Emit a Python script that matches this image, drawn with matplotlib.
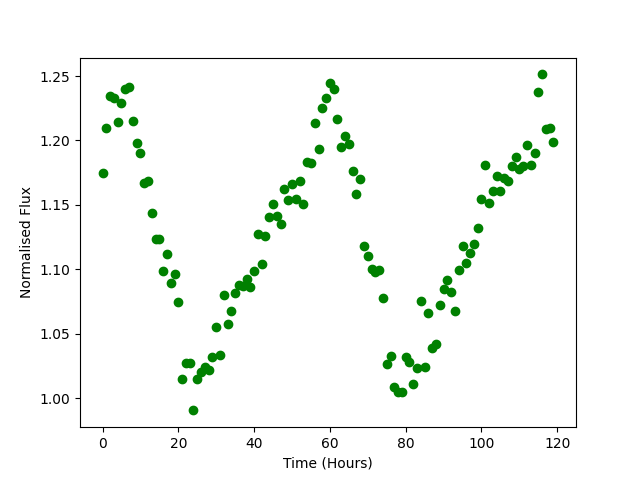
import matplotlib
matplotlib.use("Agg")
import matplotlib.pyplot as plt
import numpy as np

hours = list(range(120))
flux = [
    1.1745, 1.210, 1.2345, 1.233, 1.214, 1.2288, 1.2399, 1.2415, 1.215, 1.1977,
    1.190, 1.1667, 1.1685, 1.1436, 1.1234, 1.1234, 1.0986, 1.1116, 1.089, 1.096,
    1.0743, 1.0148, 1.0269, 1.0269, 0.9904, 1.0148, 1.020, 1.0243, 1.0217, 1.0316,
    1.0549, 1.0334, 1.080, 1.0575, 1.0673, 1.0813, 1.0877, 1.0871, 1.0928, 1.0864,
    1.0988, 1.1273, 1.104, 1.1258, 1.1403, 1.1504, 1.1415, 1.1349, 1.1623, 1.1537,
    1.1661, 1.1545, 1.1685, 1.1504, 1.1832, 1.1822, 1.2133, 1.1936, 1.2254, 1.2327,
    1.2443, 1.2397, 1.2164, 1.1946, 1.2034, 1.197, 1.1762, 1.1582, 1.1698, 1.118,
    1.1102, 1.1002, 1.0976, 1.0994, 1.0774, 1.0262, 1.0326, 1.0088, 1.0049, 1.0044,
    1.0321, 1.0282, 1.0109, 1.023, 1.0753, 1.0243, 1.066, 1.0386, 1.0419, 1.072,
    1.0844, 1.0914, 1.0823, 1.0675, 1.0996, 1.1183, 1.1048, 1.1123, 1.1196, 1.1318,
    1.1543, 1.1811, 1.1516, 1.1610, 1.1722, 1.1605, 1.1706, 1.1687, 1.1801, 1.1874,
    1.1775, 1.1801, 1.1962, 1.1807, 1.19, 1.2373, 1.2513, 1.2086, 1.2094, 1.1988,
]

fig = plt.figure(figsize=(6.4, 4.8), dpi=100)
plt.plot(hours, flux, 'o', color='green')
plt.xlabel('Time (Hours)')
plt.ylabel('Normalised Flux')
plt.savefig('out.png')
